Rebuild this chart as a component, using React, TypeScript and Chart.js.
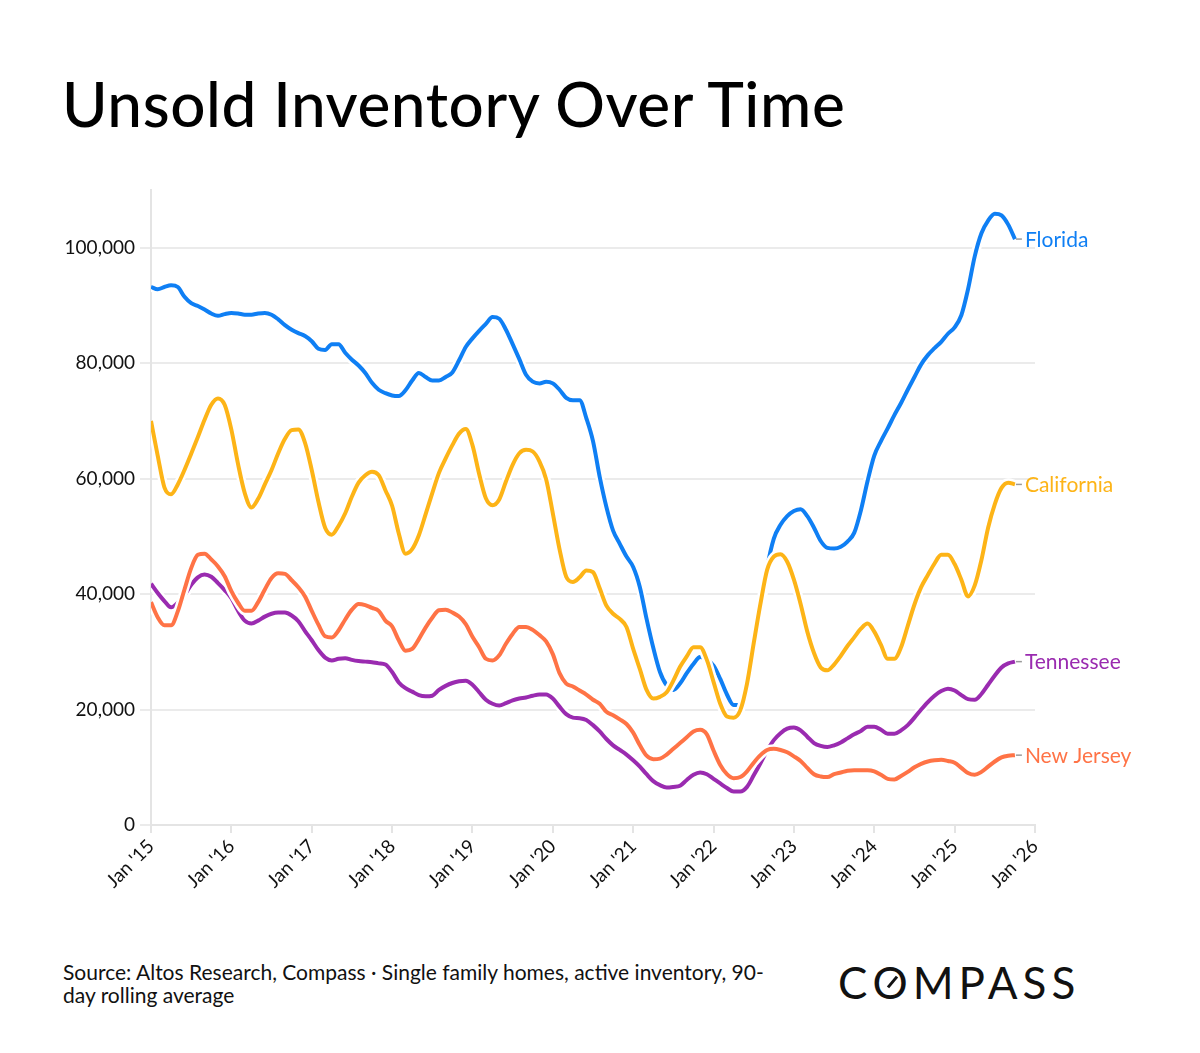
import React, { useEffect, useRef } from "react";
import { Chart, registerables } from "chart.js";

Chart.register(...registerables);

// Monthly values (thousands of homes), Jan 2015 onward
const florida = [
  93.2, 92.8, 93.2, 93.5, 93.2, 91.5, 90.4, 89.9, 89.3, 88.6, 88.2, 88.5,
  88.7, 88.6, 88.4, 88.4, 88.6, 88.7, 88.4, 87.6, 86.6, 85.8, 85.2, 84.7,
  83.8, 82.5, 82.3, 83.3, 83.3, 81.8, 80.6, 79.6, 78.3, 76.6, 75.4, 74.8,
  74.4, 74.3, 75.3, 77.0, 78.3, 77.6, 77.0, 77.0, 77.6, 78.4, 80.5, 82.8,
  84.3, 85.6, 86.8, 88.0, 87.7, 85.8, 83.3, 80.7, 78.0, 76.8, 76.5, 76.8,
  76.5, 75.4, 74.0, 73.6, 73.6, 70.5, 66.5, 60.3, 55.1, 51.0, 48.7, 46.5,
  44.7, 41.2, 35.7, 30.7, 26.5, 24.2, 23.4, 24.5, 26.3, 27.9, 29.1, 28.7,
  27.6, 25.3, 22.6, 20.8, 20.8, 24.3, 30.3, 36.8, 44.5, 49.6, 52.0, 53.5,
  54.4, 54.7, 53.5, 51.5, 49.2, 48.0, 47.9, 48.2, 49.1, 50.6, 54.5, 59.6,
  64.0, 66.5, 68.7, 71.0, 73.1, 75.4, 77.6, 79.8, 81.4, 82.6, 83.7, 85.1,
  86.2, 88.3, 92.8, 98.5, 102.5, 104.7, 105.9, 105.6, 104.0, 101.5,
];

const california = [
  70.0, 64.0, 58.5, 57.3, 59.0, 61.5, 64.3, 67.2, 70.2, 72.8, 73.9, 72.8,
  68.5, 62.5, 57.5, 55.0, 56.5, 59.0, 61.5, 64.4, 66.9, 68.4, 68.5, 66.2,
  61.5, 56.0, 51.5, 50.3, 51.8, 54.0, 56.9, 59.3, 60.6, 61.2, 60.6, 58.0,
  55.3, 50.5, 47.0, 47.8, 50.2, 53.8, 57.5, 61.0, 63.5, 65.8, 67.8, 68.6,
  65.8, 60.8, 56.6, 55.4, 56.4, 59.5, 62.4, 64.4, 65.0, 64.7, 63.0, 59.9,
  54.0, 47.8, 43.0, 42.1, 42.9, 44.1, 43.8, 41.0, 38.0, 36.6, 35.7, 34.3,
  30.5, 27.0, 23.4, 21.9, 22.2, 23.0, 25.0, 27.4, 29.2, 30.8, 30.8, 28.6,
  24.8, 21.0, 18.8, 18.6, 19.9, 24.5, 31.5, 38.3, 44.2, 46.5, 46.9, 45.6,
  42.5, 38.3, 33.5, 29.8, 27.3, 26.8, 27.8, 29.3, 31.0, 32.5, 34.0, 34.9,
  33.5, 31.2, 28.8, 28.8, 30.8, 34.5, 38.2, 41.2, 43.3, 45.3, 46.8, 46.8,
  45.2, 42.5, 39.6, 41.5, 45.9, 51.5, 55.6, 58.4, 59.3, 59.0,
];

const tennessee = [
  41.8, 40.2, 38.8, 37.7, 38.5, 39.8, 41.6, 42.9, 43.4, 43.0, 41.9, 40.7,
  39.3, 37.1, 35.4, 34.9, 35.4, 36.1, 36.6, 36.8, 36.8, 36.3, 35.3, 33.6,
  32.0, 30.3, 29.0, 28.5, 28.8, 28.9, 28.6, 28.4, 28.3, 28.2, 28.0, 27.8,
  26.5, 24.7, 23.7, 23.1, 22.5, 22.3, 22.4, 23.4, 24.1, 24.6, 24.9, 25.0,
  24.3, 23.0, 21.7, 21.0, 20.7, 21.1, 21.6, 21.9, 22.1, 22.4, 22.6, 22.6,
  21.9, 20.5, 19.2, 18.6, 18.5, 18.2, 17.3, 16.2, 14.9, 13.8, 13.0, 12.2,
  11.2, 10.1, 8.8, 7.6, 6.9, 6.5, 6.6, 6.8, 7.8, 8.7, 9.1, 8.8,
  8.0, 7.2, 6.4, 5.8, 5.8, 6.6, 8.6, 10.7, 12.9, 14.7, 15.9, 16.7,
  16.9, 16.4, 15.3, 14.2, 13.7, 13.5, 13.8, 14.3, 15.0, 15.7, 16.3, 17.0,
  17.0, 16.5, 15.8, 15.8, 16.4, 17.3, 18.6, 20.0, 21.3, 22.4, 23.2, 23.6,
  23.3, 22.5, 21.8, 21.7, 22.7, 24.3, 25.9, 27.3, 28.0, 28.3,
];

const newJersey = [
  38.6, 36.0, 34.6, 34.6, 37.0, 40.8, 44.5, 46.8, 47.0, 46.0, 44.8, 43.1,
  40.5, 38.5, 37.1, 37.1, 38.6, 40.8, 42.8, 43.6, 43.5, 42.4, 41.2, 39.6,
  37.1, 34.7, 32.7, 32.5, 33.7, 35.6, 37.3, 38.3, 38.1, 37.6, 37.1, 35.4,
  34.4, 32.0, 30.2, 30.5, 32.2, 34.2, 35.9, 37.2, 37.3, 36.8, 36.1, 34.8,
  32.6, 30.8, 28.8, 28.5, 29.4, 31.4, 33.1, 34.3, 34.3, 33.8, 32.9, 31.8,
  29.6, 26.3, 24.5, 24.0, 23.3, 22.6, 21.7, 21.0, 19.6, 19.0, 18.3, 17.5,
  16.0, 13.8, 12.0, 11.4, 11.5, 12.2, 13.2, 14.2, 15.2, 16.2, 16.5, 15.7,
  12.9, 10.4, 8.8, 8.1, 8.3, 9.3, 10.8, 12.1, 13.0, 13.2, 13.0, 12.6,
  11.9, 11.1, 9.9, 8.8, 8.4, 8.3, 8.8, 9.1, 9.4, 9.5, 9.5, 9.5,
  9.3, 8.7, 8.0, 7.9, 8.5, 9.2, 10.0, 10.6, 11.0, 11.2, 11.3, 11.1,
  10.8, 9.9, 9.0, 8.7, 9.2, 10.1, 11.0, 11.7, 12.0, 12.1,
];

const yearLabels = [
  "Jan '15", "Jan '16", "Jan '17", "Jan '18", "Jan '19", "Jan '20",
  "Jan '21", "Jan '22", "Jan '23", "Jan '24", "Jan '25", "Jan '26",
];

const yTicks = [0, 20000, 40000, 60000, 80000, 100000];

const seriesNames = ["New Jersey", "Tennessee", "California", "Florida"];
const seriesValues = [newJersey, tennessee, california, florida];
const seriesColors = ["#ff7346", "#9a2bb0", "#fdb417", "#0f7ff4"];

const FONT = "Lato, 'Open Sans', sans-serif";

const toPoints = (arr: number[]) => arr.map((v, i) => ({ x: i, y: v * 1000 }));

// Series names at the right end of each line, with a short grey connector
const endLabels = {
  id: "endLabels",
  afterDatasetsDraw(chart: any) {
    const ctx = chart.ctx;
    ctx.save();
    chart.data.datasets.forEach((ds: any, i: number) => {
      if (!ds.endLabel) return;
      const meta = chart.getDatasetMeta(i);
      const pt = meta.data[meta.data.length - 1];
      if (!pt) return;
      ctx.strokeStyle = "#9a9a9a";
      ctx.lineWidth = 1.5;
      ctx.beginPath();
      ctx.moveTo(pt.x + 1, pt.y);
      ctx.lineTo(pt.x + 7, pt.y);
      ctx.stroke();
      ctx.fillStyle = ds.borderColor;
      ctx.font = `21px ${FONT}`;
      ctx.textBaseline = "middle";
      ctx.textAlign = "left";
      ctx.fillText(ds.endLabel, pt.x + 10, pt.y + 1);
    });
    ctx.restore();
  },
};

function InventoryChart() {
  const ref = useRef<HTMLCanvasElement | null>(null);

  useEffect(() => {
    if (!ref.current) return;
    const datasets: any[] = [];
    seriesNames.forEach((name, i) => {
      const pts = toPoints(seriesValues[i]);
      datasets.push({
        label: name,
        endLabel: name,
        data: pts,
        borderColor: seriesColors[i],
        borderWidth: 4,
        pointRadius: 0,
        cubicInterpolationMode: "monotone",
        order: i * 2,
      });
      datasets.push({
        label: name + " outline",
        data: pts,
        borderColor: "#ffffff",
        borderWidth: 9,
        pointRadius: 0,
        cubicInterpolationMode: "monotone",
        order: i * 2 + 1,
      });
    });

    const chart = new Chart(ref.current, {
      type: "line",
      data: { datasets },
      plugins: [endLabels],
      options: {
        animation: false,
        responsive: false,
        devicePixelRatio: 1,
        layout: { padding: { top: 20, right: 157, left: 0, bottom: 0 } },
        plugins: { legend: { display: false }, tooltip: { enabled: false } },
        scales: {
          x: {
            type: "linear",
            min: 0,
            max: 132,
            afterBuildTicks: (scale: any) => {
              scale.ticks = yearLabels.map((_, i) => ({ value: i * 12 }));
            },
            afterFit: (scale: any) => {
              scale.height = 105;
            },
            ticks: {
              autoSkip: false,
              maxRotation: 45,
              minRotation: 45,
              padding: 2,
              color: "#111",
              font: { family: FONT, size: 19 },
              callback: (v: any) => yearLabels[Math.round(Number(v) / 12)],
            },
            grid: {
              drawOnChartArea: false,
              drawTicks: true,
              tickLength: 8,
              color: "#e4e4e4",
              lineWidth: 2,
            },
            border: { display: true, color: "#e4e4e4", width: 2 },
          },
          y: {
            min: 0,
            max: 110000,
            afterBuildTicks: (scale: any) => {
              scale.ticks = yTicks.map((v) => ({ value: v }));
            },
            afterFit: (scale: any) => {
              scale.width = 143;
            },
            ticks: {
              padding: 5,
              color: "#111",
              font: { family: FONT, size: 19 },
              callback: (v: any) => Number(v).toLocaleString("en-US"),
            },
            grid: { color: "#ebebeb", lineWidth: 2, tickLength: 11 },
            border: { display: true, color: "#e4e4e4", width: 2 },
          },
        },
      } as any,
    });
    return () => chart.destroy();
  }, []);

  return (
    <canvas
      ref={ref}
      width={1184}
      height={760}
      style={{ position: "absolute", left: 0, top: 162, width: 1184, height: 760 }}
    />
  );
}

export default function App() {
  return (
    <div
      style={{
        position: "relative",
        width: 1184,
        height: 1037,
        background: "#fff",
        fontFamily: FONT,
        color: "#000",
      }}
    >
      <div
        style={{
          position: "absolute",
          left: 54,
          top: 64,
          fontSize: 62,
          lineHeight: "62px",
          fontWeight: 500,
          letterSpacing: "0.6px",
          whiteSpace: "nowrap",
        }}
      >
        Unsold Inventory Over Time
      </div>
      <InventoryChart />
      <div
        style={{
          position: "absolute",
          left: 55,
          top: 952,
          fontSize: 21,
          lineHeight: "23px",
          color: "#111",
        }}
      >
        Source: Altos Research, Compass · Single family homes, active inventory, 90-
        <br />
        day rolling average
      </div>
      <div
        style={{
          position: "absolute",
          left: 830,
          top: 952,
          fontSize: 44,
          lineHeight: "44px",
          letterSpacing: "5px",
          color: "#111",
          whiteSpace: "nowrap",
        }}
      >
        C<span style={{ position: "relative", display: "inline-block" }}>
          O
          <span
            style={{
              position: "absolute",
              left: "45%",
              top: "34%",
              width: 3,
              height: 14,
              background: "#111",
              transform: "rotate(40deg)",
            }}
          />
        </span>
        MPASS
      </div>
    </div>
  );
}
